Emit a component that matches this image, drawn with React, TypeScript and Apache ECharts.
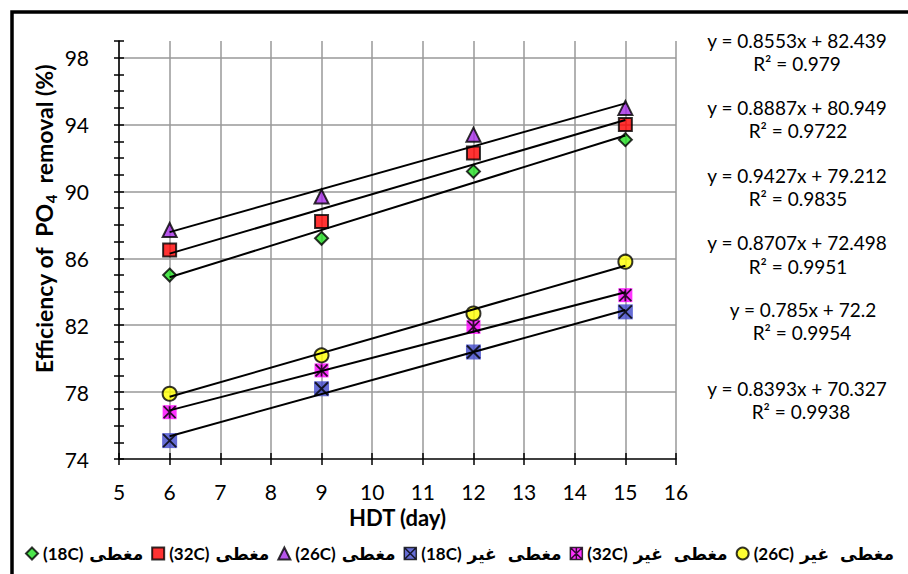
import React, { useEffect, useRef } from 'react';
import * as echarts from 'echarts';

// ---- data ----
const xDays = [6, 9, 12, 15];
const covered18 = [85.0, 87.2, 91.2, 93.1];
const covered32 = [86.5, 88.2, 92.3, 94.0];
const covered26 = [87.7, 89.7, 93.4, 95.0];
const uncovered18 = [75.1, 78.2, 80.4, 82.8];
const uncovered32 = [76.8, 79.3, 81.9, 83.8];
const uncovered26 = [77.9, 80.2, 82.7, 85.8];

// legend: temperature tag + Arabic words
const legendTemps = ['(18C)', '(32C)', '(26C)', '(18C)', '(32C)', '(26C)'];
const legendCovered = [true, true, true, false, false, false];
const wordCovered = 'مغطی';
const wordNot = 'غیر';
const legendNames = legendTemps.map((t, i) =>
  legendCovered[i] ? `${wordCovered} ${t}` : `${wordNot} ${wordCovered} ${t}`
);

// trendline equations, in the order shown on the right (top to bottom)
const eqSlopes = ['0.8553', '0.8887', '0.9427', '0.8707', '0.785', '0.8393'];
const eqIntercepts = ['82.439', '80.949', '79.212', '72.498', '72.2', '70.327'];
const eqR2 = ['0.979', '0.9722', '0.9835', '0.9951', '0.9954', '0.9938'];

const xMin = 5;
const xMax = 16;
const yMin = 74;
const yMax = 99;
const yLabelTicks = [74, 78, 82, 86, 90, 94, 98];
const trendStart = 6;
const trendEnd = 15;

const FONT = 'Lato, "DejaVu Sans", sans-serif';
const AR_FONT = '"DejaVu Sans", sans-serif';

const pairs = (ys: number[]) => xDays.map((x, i) => [x, ys[i]]);

export default function App() {
  const ref = useRef<HTMLDivElement>(null);
  useEffect(() => {
    if (!ref.current) return;
    const chart = echarts.init(ref.current, null, { renderer: 'svg' });

    const crossPath = 'path://M0,0L10,10M10,0L0,10';
    const starPath = 'path://M0,0L10,10M10,0L0,10M5,0L5,10';
    const tickStyle = { color: '#000', width: 1.5 };

    const eqPos = [
      { x: 797, y: 40, rx: 797, ry: 63 },
      { x: 797, y: 107, rx: 798, ry: 130 },
      { x: 797, y: 175, rx: 798, ry: 198 },
      { x: 797, y: 242, rx: 798, ry: 266 },
      { x: 803, y: 309, rx: 802, ry: 332 },
      { x: 797, y: 388, rx: 801, ry: 411 },
    ];

    const graphics: any[] = [
      {
        type: 'rect',
        shape: { x: 12, y: 12, width: 1000, height: 1000 },
        style: { fill: 'none', stroke: '#000', lineWidth: 3.5 },
        z: 100,
        silent: true,
      },
      {
        type: 'text',
        x: 44,
        y: 219,
        rotation: Math.PI / 2,
        style: {
          text: '{a|Efficiency of  PO}{s|4}{a|  removal (%)}',
          align: 'center',
          verticalAlign: 'middle',
          textAlign: 'center',
          textVerticalAlign: 'middle',
          rich: {
            a: { fontFamily: FONT, fontWeight: 'bold', fontSize: 23, fill: '#000', lineHeight: 29 },
            s: { fontFamily: FONT, fontWeight: 'bold', fontSize: 15, fill: '#000', lineHeight: 15, verticalAlign: 'bottom' },
          },
        },
      },
    ];
    eqSlopes.forEach((s, i) => {
      graphics.push({
        type: 'text',
        x: eqPos[i].x,
        y: eqPos[i].y,
        style: {
          text: `y = ${s}x + ${eqIntercepts[i]}`,
          fontFamily: FONT,
          fontSize: 19,
          fill: '#000',
          align: 'center',
          verticalAlign: 'middle',
          textAlign: 'center',
          textVerticalAlign: 'middle',
        },
      });
      graphics.push({
        type: 'text',
        x: eqPos[i].rx,
        y: eqPos[i].ry,
        style: {
          text: `R² = ${eqR2[i]}`,
          fontFamily: FONT,
          fontSize: 19,
          fill: '#000',
          align: 'center',
          verticalAlign: 'middle',
          textAlign: 'center',
          textVerticalAlign: 'middle',
        },
      });
    });

    // trendlines drawn from the displayed equations
    const trendSeries = eqSlopes.map((s, i) => {
      const a = parseFloat(s);
      const b = parseFloat(eqIntercepts[i]);
      return {
        type: 'line',
        name: 'trend' + i,
        data: [
          [trendStart, a * trendStart + b],
          [trendEnd, a * trendEnd + b],
        ],
        symbol: 'none',
        silent: true,
        lineStyle: { color: '#000', width: 2 },
        z: 6,
      };
    });

    const border = { borderColor: '#000', borderWidth: 2 };

    const option: any = {
      animation: false,
      backgroundColor: '#fff',
      grid: { left: 119, top: 41, right: 232, bottom: 115 },
      xAxis: [
        {
          type: 'value',
          min: xMin,
          max: xMax,
          interval: 1,
          axisLine: { show: true, lineStyle: tickStyle },
          axisTick: { show: true, length: 6, lineStyle: tickStyle },
          axisLabel: { fontFamily: FONT, fontSize: 21, color: '#000', margin: 22 },
          splitLine: { show: true, lineStyle: { color: '#999', width: 1.5 } },
          name: 'HDT (day)',
          nameLocation: 'middle',
          nameGap: 46,
          nameTextStyle: { fontFamily: FONT, fontWeight: 'bold', fontSize: 22, color: '#000' },
        },
        {
          type: 'value',
          position: 'bottom',
          min: xMin,
          max: xMax,
          interval: 1,
          axisLine: { show: false },
          axisTick: { show: true, inside: true, length: 6, lineStyle: tickStyle },
          axisLabel: { show: false },
          splitLine: { show: false },
        },
      ],
      yAxis: [
        {
          type: 'value',
          min: yMin,
          max: yMax,
          interval: 1,
          z: 3,
          axisLine: { show: true, lineStyle: tickStyle },
          axisTick: { show: true, length: 5, lineStyle: tickStyle },
          axisLabel: {
            fontFamily: FONT,
            fontSize: 21,
            color: '#000',
            margin: 30,
            formatter: (v: number) => (yLabelTicks.includes(v) ? String(v) : ''),
          },
          splitLine: { show: false },
        },
        {
          type: 'value',
          position: 'left',
          min: yMin,
          max: yMax,
          interval: 1,
          z: 3,
          axisLine: { show: false },
          axisTick: { show: true, inside: true, length: 5, lineStyle: tickStyle },
          axisLabel: { show: false },
          splitLine: { show: false },
        },
      ],
      legend: {
        left: 20,
        top: 540,
        width: 3000,
        itemWidth: 12,
        itemHeight: 12,
        itemGap: 8,
        selectedMode: false,
        formatter: (name: string) => {
          const i = legendNames.indexOf(name);
          if (i < 0) return name;
          return legendCovered[i]
            ? `{c|${legendTemps[i]}}{ar|${wordCovered}}`
            : `{c|${legendTemps[i]}}{not|${wordNot}}{ar|${wordCovered}}`;
        },
        textStyle: {
          fontFamily: FONT,
          fontWeight: 'bold',
          fontSize: 17,
          color: '#000',
          rich: {
            c: { fontFamily: FONT, fontWeight: 'bold', fontSize: 17, color: '#000', padding: [0, 6, 0, 0] },
            not: { fontFamily: AR_FONT, fontWeight: 'bold', fontSize: 17, color: '#000', padding: [0, 11, 0, 0] },
            ar: { fontFamily: AR_FONT, fontWeight: 'bold', fontSize: 17, color: '#000' },
          },
        },
        data: [
          { name: legendNames[0] },
          { name: legendNames[1] },
          { name: legendNames[2] },
          {
            name: legendNames[3],
            icon: 'path://M0,0H10V10H0ZM0,0L10,10M10,0L0,10',
            itemStyle: { borderColor: '#000', borderWidth: 1.5 },
          },
          {
            name: legendNames[4],
            icon: 'path://M0,0H10V10H0ZM0,0L10,10M10,0L0,10M5,0L5,10',
            itemStyle: { borderColor: '#000', borderWidth: 1.5 },
          },
          { name: legendNames[5] },
        ],
      },
      graphic: graphics,
      series: [
        {
          type: 'lines',
          coordinateSystem: 'cartesian2d',
          silent: true,
          z: 1,
          lineStyle: { color: '#999', width: 1.5, opacity: 1 },
          data: yLabelTicks
            .filter((v) => v > yMin)
            .map((v) => ({ coords: [[xMin, v], [xMax, v]] })),
        },
        {
          type: 'scatter',
          name: legendNames[0],
          data: pairs(covered18),
          symbol: 'diamond',
          symbolSize: 13,
          itemStyle: { color: '#22E022', ...border },
          z: 3,
        },
        {
          type: 'scatter',
          name: legendNames[1],
          data: pairs(covered32),
          symbol: 'rect',
          symbolSize: 13,
          itemStyle: { color: '#FF0000', ...border },
          z: 3,
        },
        {
          type: 'scatter',
          name: legendNames[2],
          data: pairs(covered26),
          symbol: 'triangle',
          symbolSize: 14,
          itemStyle: { color: '#A52AE6', ...border },
          z: 3,
        },
        {
          type: 'scatter',
          name: legendNames[3],
          data: pairs(uncovered18),
          symbol: 'rect',
          symbolSize: 15,
          itemStyle: { color: '#4048CC' },
          z: 3,
        },
        {
          type: 'scatter',
          name: 'x-overlay-18',
          data: pairs(uncovered18),
          symbol: crossPath,
          symbolSize: 13,
          itemStyle: { color: 'transparent', borderColor: '#000', borderWidth: 2 },
          z: 4,
          silent: true,
        },
        {
          type: 'scatter',
          name: legendNames[4],
          data: pairs(uncovered32),
          symbol: 'rect',
          symbolSize: 14,
          itemStyle: { color: '#FF00FF' },
          z: 3,
        },
        {
          type: 'scatter',
          name: 'star-overlay-32',
          data: pairs(uncovered32),
          symbol: starPath,
          symbolSize: 12,
          itemStyle: { color: 'transparent', borderColor: '#000', borderWidth: 1.8 },
          z: 4,
          silent: true,
        },
        {
          type: 'scatter',
          name: legendNames[5],
          data: pairs(uncovered26),
          symbol: 'circle',
          symbolSize: 14,
          itemStyle: { color: '#FFFF00', ...border },
          z: 3,
        },
        ...trendSeries,
      ],
    };

    chart.setOption(option);
    return () => chart.dispose();
  }, []);

  return (
    <div
      ref={ref}
      style={{ position: 'absolute', left: 0, top: 0, width: 908, height: 574, background: '#fff' }}
    />
  );
}
